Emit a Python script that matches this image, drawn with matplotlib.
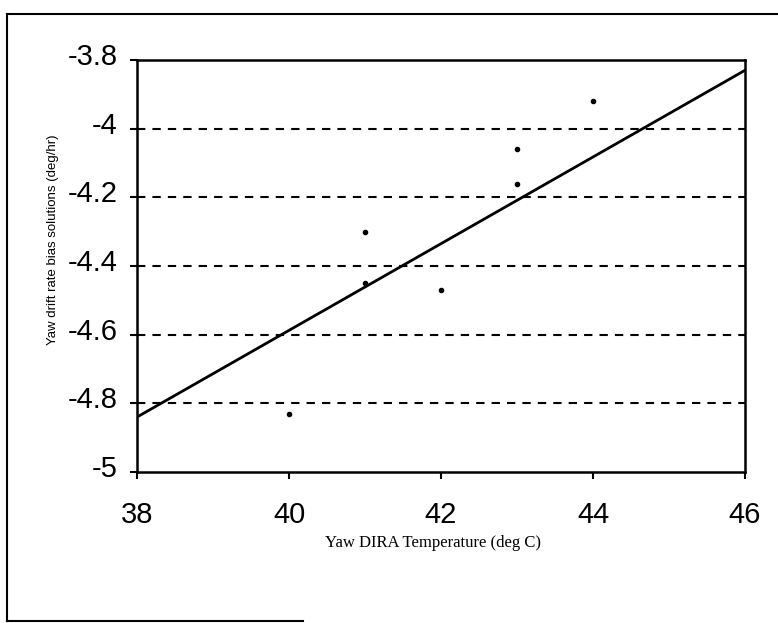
import matplotlib
matplotlib.use("Agg")
import matplotlib.pyplot as plt
import matplotlib.transforms as mtransforms
from matplotlib.lines import Line2D

# Data
temp_x = [40, 41, 41, 42, 43, 43, 44]
bias_y = [-4.83, -4.30, -4.45, -4.47, -4.16, -4.06, -3.92]
trend_x = [38, 46]
trend_y = [-4.84, -3.83]
x_ticks = [38, 40, 42, 44, 46]
y_ticks = [-5, -4.8, -4.6, -4.4, -4.2, -4, -3.8]
y_tick_labels = ["-5", "-4.8", "-4.6", "-4.4", "-4.2", "-4", "-3.8"]
grid_levels = [-4.8, -4.6, -4.4, -4.2, -4.0]
x_label = "Yaw DIRA Temperature (deg C)"
y_label = "Yaw drift rate bias solutions (deg/hr)"

W, H = 778, 623
fig = plt.figure(figsize=(W / 100, H / 100), dpi=100)
ax = fig.add_axes([137 / W, 1 - 472 / H, (745 - 137) / W, (472 - 60) / H])

for g in grid_levels:
    ax.axhline(g, color="black", lw=1.5, ls=(0, (4, 3.4)), zorder=1)

ax.plot(trend_x, trend_y, color="black", lw=2.0, zorder=3)
ax.plot(temp_x, bias_y, ls="none", marker="o", ms=3, color="black", zorder=4)

ax.set_xlim(38, 46)
ax.set_ylim(-5, -3.8)
ax.set_xticks(x_ticks)
ax.set_xticklabels([str(t) for t in x_ticks])
ax.set_yticks(y_ticks)
ax.set_yticklabels(y_tick_labels)

for s in ax.spines.values():
    s.set_linewidth(1.8)
    s.set_color("black")

ax.tick_params(axis="both", direction="out", length=5, width=1.5, colors="black",
               labelsize=21)
ax.tick_params(axis="x", pad=16)
ax.tick_params(axis="y", pad=9)
for lab in ax.get_xticklabels() + ax.get_yticklabels():
    lab.set_fontfamily("Liberation Sans")
off = mtransforms.ScaledTranslation(0, 6 / 100, fig.dpi_scale_trans)
for lab in ax.get_yticklabels():
    lab.set_transform(lab.get_transform() + off)

fig.text(433 / W, 1 - 543 / H, x_label, ha="center", va="center",
         fontsize=12, family="Liberation Serif")
fig.text(53 / W, 1 - 240 / H, y_label, ha="center", va="center", rotation=90,
         fontsize=9.5, family="Liberation Sans")

# outer frame
fig.add_artist(Line2D([7 / W, 1.0], [1 - 14 / H, 1 - 14 / H], transform=fig.transFigure,
                      color="black", lw=1.5))
fig.add_artist(Line2D([7 / W, 7 / W], [1 - 14 / H, 1 - 621 / H], transform=fig.transFigure,
                      color="black", lw=1.5))
fig.add_artist(Line2D([7 / W, 303 / W], [1 - 621 / H, 1 - 621 / H], transform=fig.transFigure,
                      color="black", lw=1.5))

fig.savefig("out.png", dpi=100)
